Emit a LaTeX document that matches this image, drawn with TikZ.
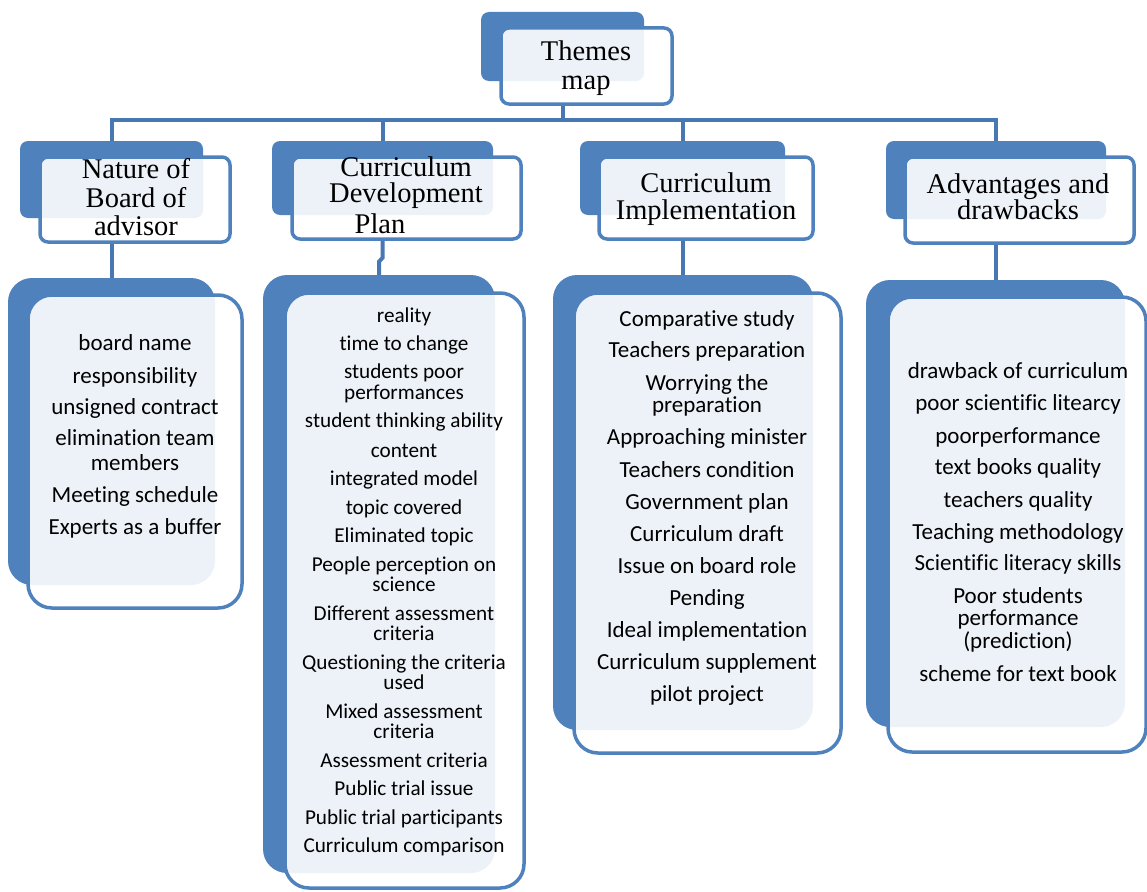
\documentclass[tikz,border=0pt]{standalone}
\usepackage{fontspec}
\newfontfamily\headfont{Liberation Serif}
\newfontfamily\listfont[Ligatures=NoCommon]{Carlito}
\usetikzlibrary{fit}
\definecolor{boxblue}{RGB}{79,129,189}
\definecolor{linkblue}{RGB}{72,120,180}
\tikzset{
  backbox/.style={fill=boxblue, rounded corners=#1, inner sep=0pt},
  frontbox/.style={draw=boxblue, line width=3.5pt, fill=white, fill opacity=0.9, rounded corners=#1, inner sep=0pt},
  link/.style={draw=linkblue, line width=4pt},
  head/.style={anchor=base, inner sep=0pt, font=\headfont\fontsize{28.5}{30}\selectfont},
  item/.style={anchor=base, inner sep=0pt, font=\listfont\fontsize{23}{26}\selectfont},
  smallitem/.style={item, font=\listfont\fontsize{21.2}{24}\selectfont},
}
\begin{document}
\begin{tikzpicture}[x=1pt, y=-1pt]
  \useasboundingbox (0,0) rectangle (1147,891);

  % Top box
  \node[backbox=8pt, fit={(481,12) (644,81)}] (themes-bk) {};
  \node[frontbox=8pt, fit={(501,28) (672,104)}] (themes) {};
  \node[head] (themes-t1) at (586,60) {Themes};
  \node[head] (themes-t2) at (586,89) {map};

  % Theme boxes
  \node[backbox=8pt, fit={(20,141) (203,218)}] (nature-bk) {};
  \node[frontbox=8pt, fit={(40,157) (230,242)}] (nature) {};
  \node[head] (nature-t1) at (136,178) {Nature of};
  \node[head] (nature-t2) at (136,207) {Board of};
  \node[head] (nature-t3) at (136,235) {advisor};

  \node[backbox=8pt, fit={(272,141) (493,215)}] (cdp-bk) {};
  \node[frontbox=8pt, fit={(292,157) (521,239)}] (cdp) {};
  \node[head] (cdp-t1) at (406,176) {Curriculum};
  \node[head] (cdp-t2) at (406,202) {Development};
  \node[head] (cdp-t3) at (380,233) {Plan};

  \node[backbox=8pt, fit={(580,141) (785,215)}] (ci-bk) {};
  \node[frontbox=8pt, fit={(599,157) (813,239)}] (ci) {};
  \node[head] (ci-t1) at (706,192) {Curriculum};
  \node[head] (ci-t2) at (706,219) {Implementation};

  \node[backbox=8pt, fit={(886,141) (1106,219)}] (ad-bk) {};
  \node[frontbox=8pt, fit={(905,157) (1134,243)}] (ad) {};
  \node[head] (ad-t1) at (1018,193) {Advantages and};
  \node[head] (ad-t2) at (1018,219) {drawbacks};

  % List boxes
  \node[backbox=24pt, fit={(8,278) (215,585)}] (nature-lst-bk) {};
  \node[frontbox=24pt, fit={(28,295) (242,608)}] (nature-lst) {};
  \node[backbox=24pt, fit={(263,275) (495,873)}] (cdp-lst-bk) {};
  \node[frontbox=24pt, fit={(285,293) (524,888)}] (cdp-lst) {};
  \node[backbox=24pt, fit={(553,275) (813,730)}] (ci-lst-bk) {};
  \node[frontbox=24pt, fit={(574,293) (841,753)}] (ci-lst) {};
  \node[backbox=24pt, fit={(866,280) (1125,727)}] (ad-lst-bk) {};
  \node[frontbox=24pt, fit={(888,297) (1146,752)}] (ad-lst) {};

  % Connectors
  \coordinate (bus) at (563,120);
  \draw[link] (themes.south -| bus) -- (bus);
  \draw[link] (nature-bk.north) |- (bus) -| (ad-bk.north);
  \draw[link] (cdp-bk.north) -- (cdp-bk.north |- bus);
  \draw[link] (ci-bk.north) -- (ci-bk.north |- bus);
  \draw[link] (nature.south -| nature-lst-bk.north) -- (nature-lst-bk.north);
  \draw[link] (cdp.south -| cdp-bk.north) -- ++(0,17) -- ++(-3.5,4) -- (cdp-lst-bk.north);
  \draw[link] (ci.south -| ci-lst-bk.north) -- (ci-lst-bk.north);
  \draw[link] (ad.south -| ad-lst-bk.north) -- (ad-lst-bk.north);

  % Items
  \foreach \y/\txt [count=\i] in {350/board name, 383/responsibility,
      414/unsigned contract, 445/elimination  team, 470/members,
      502/Meeting schedule, 534/Experts as a buffer}
    \node[item] (nature-i\i) at (135,\y) {\txt};

  \foreach \y/\txt [count=\i] in {322/reality, 350/time to change,
      378/students poor, 399/performances, 427/student thinking ability,
      457/content, 485/integrated model, 514/topic covered,
      542/Eliminated topic, 571/People perception on, 591/science,
      620/Different assessment, 640/criteria, 669/Questioning the criteria,
      689/used, 718/Mixed assessment, 738/criteria, 767/Assessment criteria,
      795/Public trial issue, 824/Public trial participants,
      852/Curriculum comparison}
    \node[smallitem] (cdp-i\i) at (404,\y) {\txt};

  \foreach \y/\txt [count=\i] in {326/Comparative study,
      357/Teachers preparation, 390/Worrying the, 412/preparation,
      444/Approaching minister, 477/Teachers condition, 509/Government plan,
      541/Curriculum draft, 573/Issue on board role, 605/Pending,
      637/Ideal implementation, 669/Curriculum supplement, 701/pilot project}
    \node[item] (ci-i\i) at (707,\y) {\txt};

  \foreach \y/\txt [count=\i] in {378/drawback of curriculum,
      410/poor scientific  litearcy, 443/poorperformance,
      474/text books quality, 507/teachers quality, 539/Teaching methodology,
      570/Scientific literacy skills, 603/Poor students, 625/performance,
      648/(prediction), 681/scheme for text book}
    \node[item] (ad-i\i) at (1018,\y) {\txt};

\end{tikzpicture}
\end{document}
